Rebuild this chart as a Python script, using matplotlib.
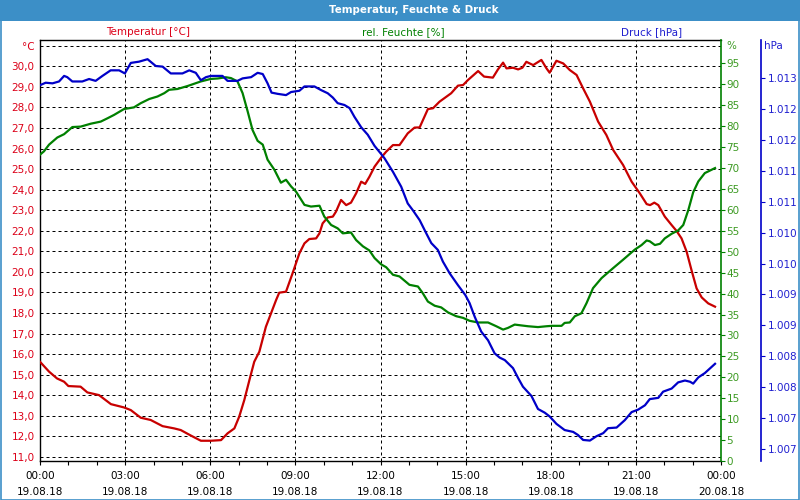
import matplotlib
matplotlib.use("Agg")
import matplotlib.pyplot as plt
from matplotlib.patches import Rectangle
from matplotlib.ticker import FixedLocator, MultipleLocator

# --- data (hours since 19.08.18 00:00) ---
temp_hours = [0, 0.32, 0.6, 0.85, 1.0, 1.43, 1.67, 2.08, 2.5, 2.96, 3.2, 3.55, 3.9, 4.32, 4.73, 4.96,
              5.32, 5.67, 6.02, 6.38, 6.61, 6.85, 7.02, 7.2, 7.38, 7.55, 7.73, 7.96, 8.14, 8.32, 8.43,
              8.67, 8.9, 9.14, 9.32, 9.49, 9.73, 9.85, 9.96, 10.14, 10.32, 10.43, 10.61, 10.79, 10.96,
              11.14, 11.32, 11.46, 11.61, 11.79, 12.02, 12.2, 12.44, 12.67, 12.96, 13.2, 13.38, 13.67,
              13.85, 14.08, 14.49, 14.73, 14.91, 15.08, 15.44, 15.65, 15.96, 16.14, 16.32, 16.44, 16.67,
              16.85, 17.0, 17.14, 17.38, 17.67, 17.85, 17.96, 18.2, 18.44, 18.67, 18.91, 19.14, 19.38,
              19.67, 19.96, 20.2, 20.55, 20.85, 21.14, 21.38, 21.5, 21.65, 21.79, 22.02, 22.26, 22.43,
              22.61, 22.79, 22.96, 23.14, 23.32, 23.55, 23.79]
temp_vals = [15.63, 15.15, 14.82, 14.66, 14.45, 14.42, 14.14, 14.01, 13.57, 13.41, 13.28, 12.91, 12.8,
             12.5, 12.39, 12.31, 12.04, 11.79, 11.79, 11.82, 12.15, 12.39, 12.96, 13.77, 14.74, 15.63,
             16.12, 17.33, 17.98, 18.63, 18.99, 19.04, 19.93, 20.9, 21.39, 21.6, 21.63, 21.88, 22.36,
             22.65, 22.69, 22.93, 23.5, 23.25, 23.37, 23.82, 24.39, 24.28, 24.63, 25.12, 25.55, 25.85,
             26.17, 26.17, 26.74, 27.02, 27.03, 27.92, 27.96, 28.28, 28.69, 29.06, 29.09, 29.33, 29.77,
             29.5, 29.45, 29.85, 30.18, 29.9, 29.93, 29.85, 29.93, 30.22, 30.06, 30.31, 29.9, 29.69,
             30.27, 30.14, 29.82, 29.58, 28.93, 28.28, 27.31, 26.66, 25.93, 25.2, 24.39, 23.82, 23.3,
             23.25, 23.37, 23.25, 22.69, 22.28, 22.0, 21.63, 20.98, 20.09, 19.2, 18.76, 18.47, 18.31]

hum_hours = [0, 0.14, 0.32, 0.61, 0.85, 1.14, 1.43, 1.79, 2.14, 2.38, 2.61, 2.96, 3.31, 3.55, 3.85,
             4.14, 4.38, 4.55, 4.85, 5.2, 5.67, 6.02, 6.26, 6.55, 6.73, 6.96, 7.14, 7.32, 7.49, 7.67,
             7.85, 8.02, 8.26, 8.49, 8.67, 8.85, 9.02, 9.32, 9.55, 9.85, 10.02, 10.26, 10.49, 10.67,
             10.96, 11.14, 11.38, 11.61, 11.79, 12.02, 12.2, 12.44, 12.67, 13.02, 13.32, 13.49, 13.67,
             13.91, 14.14, 14.38, 14.67, 14.91, 15.14, 15.44, 15.79, 16.08, 16.32, 16.49, 16.73, 16.96,
             17.2, 17.55, 17.85, 18.05, 18.38, 18.49, 18.67, 18.85, 19.08, 19.26, 19.49, 19.79, 20.2,
             20.55, 20.96, 21.2, 21.38, 21.49, 21.67, 21.85, 22.02, 22.26, 22.49, 22.67, 22.85, 23.02,
             23.2, 23.43, 23.79]
hum_vals = [73.2, 74.0, 75.6, 77.3, 78.1, 79.8, 79.9, 80.6, 81.1, 81.9, 82.7, 84.1, 84.5, 85.5, 86.5,
            87.1, 87.9, 88.7, 88.9, 89.6, 90.7, 91.3, 91.4, 91.7, 91.5, 90.7, 87.9, 83.5, 79.1, 76.5,
            75.6, 72.0, 69.6, 66.5, 67.2, 65.6, 64.4, 61.2, 60.8, 61.0, 58.4, 56.4, 55.6, 54.4, 54.6,
            52.8, 51.3, 50.3, 48.5, 47.0, 46.3, 44.5, 44.1, 42.1, 41.7, 40.1, 38.1, 37.1, 36.7, 35.5,
            34.6, 34.2, 33.5, 33.1, 33.1, 32.2, 31.4, 31.8, 32.6, 32.4, 32.2, 32.0, 32.2, 32.3, 32.3,
            33.0, 33.1, 34.6, 35.3, 37.7, 41.3, 43.7, 46.1, 48.1, 50.5, 51.6, 52.7, 52.5, 51.6, 51.9,
            53.2, 54.3, 55.1, 56.4, 60.0, 64.2, 66.8, 68.8, 70.0]

press_hours = [0, 0.2, 0.44, 0.67, 0.85, 0.96, 1.14, 1.49, 1.73, 1.96, 2.2, 2.49, 2.79, 2.99, 3.2,
               3.49, 3.79, 4.08, 4.32, 4.61, 5.02, 5.26, 5.49, 5.67, 5.85, 6.02, 6.43, 6.61, 6.96,
               7.14, 7.44, 7.67, 7.85, 8.02, 8.16, 8.38, 8.67, 8.85, 9.14, 9.32, 9.67, 9.91, 10.14,
               10.32, 10.49, 10.73, 10.91, 11.08, 11.32, 11.55, 11.79, 12.02, 12.14, 12.44, 12.73,
               12.96, 13.14, 13.38, 13.61, 13.79, 14.02, 14.2, 14.44, 14.73, 14.99, 15.14, 15.32,
               15.55, 15.79, 16.02, 16.2, 16.38, 16.67, 16.85, 17.02, 17.32, 17.55, 17.79, 17.96,
               18.2, 18.49, 18.79, 18.96, 19.14, 19.38, 19.61, 19.85, 20.02, 20.32, 20.61, 20.85,
               21.08, 21.32, 21.49, 21.79, 21.96, 22.26, 22.49, 22.73, 22.91, 23.02, 23.2, 23.43,
               23.67, 23.79]
press_vals = [1012.63, 1012.67, 1012.66, 1012.69, 1012.78, 1012.76, 1012.69, 1012.69, 1012.73, 1012.70,
              1012.78, 1012.87, 1012.87, 1012.82, 1012.99, 1013.01, 1013.05, 1012.94, 1012.93, 1012.82,
              1012.82, 1012.87, 1012.83, 1012.71, 1012.76, 1012.78, 1012.78, 1012.70, 1012.70, 1012.74,
              1012.76, 1012.83, 1012.81, 1012.66, 1012.51, 1012.49, 1012.47, 1012.52, 1012.54, 1012.61,
              1012.61, 1012.55, 1012.50, 1012.43, 1012.34, 1012.31, 1012.26, 1012.12, 1011.95, 1011.83,
              1011.65, 1011.52, 1011.45, 1011.23, 1010.99, 1010.72, 1010.61, 1010.45, 1010.24, 1010.08,
              1009.97, 1009.78, 1009.59, 1009.40, 1009.24, 1009.11, 1008.89, 1008.65, 1008.51, 1008.30,
              1008.23, 1008.19, 1008.06, 1007.90, 1007.76, 1007.61, 1007.40, 1007.34, 1007.28, 1007.16,
              1007.06, 1007.03, 1006.98, 1006.90, 1006.89, 1006.96, 1007.01, 1007.09, 1007.10, 1007.22,
              1007.35, 1007.39, 1007.46, 1007.56, 1007.58, 1007.68, 1007.73, 1007.83, 1007.86, 1007.84,
              1007.81, 1007.91, 1007.98, 1008.08, 1008.13]

x_ticks = [0, 3, 6, 9, 12, 15, 18, 21, 24]
x_labels = ["00:00\n19.08.18", "03:00\n19.08.18", "06:00\n19.08.18", "09:00\n19.08.18",
            "12:00\n19.08.18", "15:00\n19.08.18", "18:00\n19.08.18", "21:00\n19.08.18",
            "00:00\n20.08.18"]
temp_ticks = list(range(11, 32))
hum_ticks = list(range(0, 100, 5))
press_ticks = [1006.75 + 0.5 * k for k in range(13)]

title = "Temperatur, Feuchte & Druck"

# colours
RED = "#c80000"
GREEN = "#008000"
BLUE = "#0000c8"
RED_TXT = "#dc0018"
GREEN_TXT = "#3c9a22"
BLUE_TXT = "#2020d0"
BAR = "#3c8fc7"

plt.rcParams["font.family"] = ["DejaVu Sans"]
plt.rcParams["font.size"] = 7.5

W, H = 800, 500
fig = plt.figure(figsize=(8, 5), dpi=100)
fig.patch.set_facecolor("white")

# title bar + frame
fig.patches.append(Rectangle((0, 1 - 20.5 / H), 1, 20.5 / H, transform=fig.transFigure,
                             facecolor=BAR, edgecolor="none"))
fig.patches.append(Rectangle((0.5 / W, 0.5 / H), 1 - 1.5 / W, 1 - 1.5 / H, transform=fig.transFigure,
                             facecolor="none", edgecolor=BAR, lw=1.2))
fig.text(414 / W, 1 - 10 / H, title, color="white", fontweight="bold", fontsize=7.4,
         ha="center", va="center")

ax = fig.add_axes([40 / W, 39 / H, 681 / W, 421 / H])
ax.set_xlim(0, 24)
ax.set_ylim(10.805, 31.28)

ax.set_xticks(x_ticks)
ax.set_xticklabels(x_labels, linespacing=1.75)
ax.xaxis.set_minor_locator(MultipleLocator(1))
ax.tick_params(axis="x", which="both", direction="out", length=3, width=0.8, pad=4, colors="black")

ax.set_yticks(temp_ticks)
ax.set_yticklabels([f"{v:.1f}".replace(".", ",") for v in temp_ticks[:-1]] + ["°C"])
ax.tick_params(axis="y", length=0, pad=4, labelcolor=RED_TXT)

ax.grid(True, which="major", color="black", linestyle=(0, (3, 3)), lw=0.72)
for s in ["top", "left", "bottom"]:
    ax.spines[s].set_color("black")
    ax.spines[s].set_linewidth(1)
ax.spines["right"].set_visible(False)

ax.plot(temp_hours, temp_vals, color=RED, lw=1.6, zorder=3)

# humidity axis
ax2 = ax.twinx()
ax2.set_ylim(0, 100.6)
ax2.set_yticks(hum_ticks)
ax2.tick_params(axis="y", direction="out", length=3, width=0.8, pad=1, colors=GREEN,
                labelcolor=GREEN_TXT)
for s in ["top", "left", "bottom"]:
    ax2.spines[s].set_visible(False)
ax2.spines["right"].set_color(GREEN)
ax2.spines["right"].set_linewidth(1.2)
ax2.plot(hum_hours, hum_vals, color=GREEN, lw=1.6, zorder=3)

# pressure axis
ax3 = ax.twinx()
ax3.set_ylim(1006.56, 1013.36)
ax3.spines["right"].set_position(("axes", (760.7 - 40) / 681))
for s in ["top", "left", "bottom"]:
    ax3.spines[s].set_visible(False)
ax3.spines["right"].set_color(BLUE)
ax3.spines["right"].set_linewidth(1.2)
ax3.yaxis.set_major_locator(FixedLocator(press_ticks))
ax3.set_yticklabels([f"{round(v):,}".replace(",", ".") for v in press_ticks])
ax3.tick_params(axis="y", direction="out", length=3, width=0.8, pad=2, colors=BLUE,
                labelcolor=BLUE_TXT)
ax3.plot(press_hours, press_vals, color=BLUE, lw=1.6, zorder=3)

# series labels and axis units
fig.text(148 / W, 1 - 32 / H, "Temperatur [°C]", color=RED_TXT, ha="center", va="center")
fig.text(403 / W, 1 - 32 / H, "rel. Feuchte [%]", color=GREEN, ha="center", va="center")
fig.text(652 / W, 1 - 32 / H, "Druck [hPa]", color=BLUE_TXT, ha="center", va="center")
fig.text(726 / W, 1 - 46 / H, "%", color=GREEN_TXT, ha="left", va="center")
fig.text(764 / W, 1 - 46 / H, "hPa", color=BLUE_TXT, ha="left", va="center")

fig.savefig("out.png", dpi=100)
